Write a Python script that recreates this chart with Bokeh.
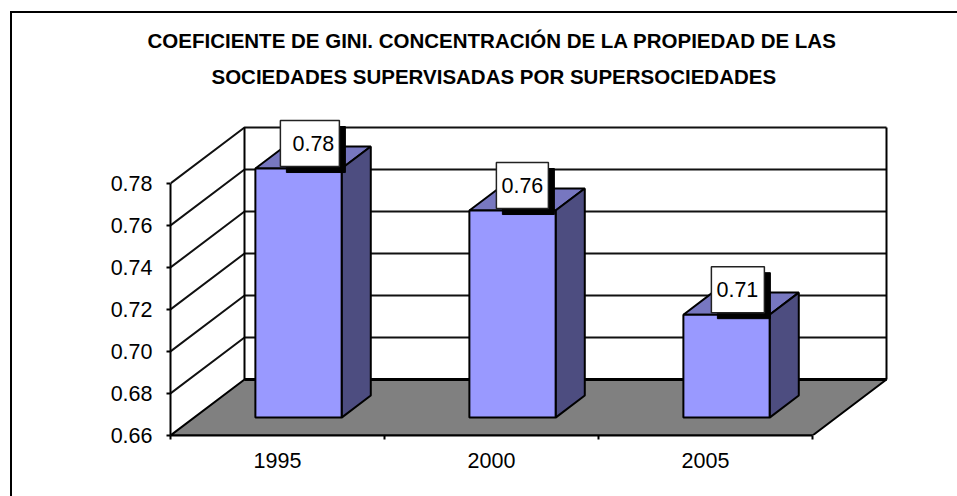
from bokeh.plotting import figure
from bokeh.embed import file_html
from bokeh.resources import INLINE
from bokeh.models import Range1d, FixedTicker, Title
from bokeh.core.properties import value

title_lines = ["COEFICIENTE DE GINI. CONCENTRACIÓN DE LA PROPIEDAD DE LAS",
               "SOCIEDADES SUPERVISADAS POR SUPERSOCIEDADES"]
years = ["1995", "2000", "2005"]
gini = [0.7786, 0.7586, 0.7090]
gini_labels = ["0.78", "0.76", "0.71"]
y_ticks = [0.66, 0.68, 0.70, 0.72, 0.74, 0.76, 0.78]

FONT = "Liberation Sans"
MX, MY = 10, 11                 # margin that puts the figure corner on the chart-area border
W, H = 957 - MX, 496 - MY
PX_X, PX_Y = 214.0, 2100.0      # pixels per category / per value unit
Y0, Y1 = y_ticks[0], y_ticks[-1]
N = len(years)
DX, DY = 74 / PX_X, 56 / PX_Y   # oblique projection of the full depth
LEFT, RIGHT, BOTTOM, TOP = 170 - MX, 957 - 890, 496 - 435, 116 - MY

def proj(x, v, d=0.0):
    return x + d * DX, v + d * DY

def poly(*pts):
    return [q[0] for q in pts], [q[1] for q in pts]

p = figure(width=W, height=H, output_backend="svg", toolbar_location=None,
           min_border_left=LEFT, min_border_right=RIGHT,
           min_border_bottom=BOTTOM, min_border_top=TOP,
           x_range=Range1d(0, (W - LEFT - RIGHT) / PX_X),
           y_range=Range1d(Y0, Y0 + (H - BOTTOM - TOP) / PX_Y),
           background_fill_color=None, border_fill_color=None)
p.margin = (MY, 0, 0, MX)
p.styles = {"box-shadow": "inset 2px 2px 0 0 black"}
p.grid.visible = False
p.outline_line_color = None

# axes
ax = p.yaxis[0]
ax.bounds = (Y0, Y1)
ax.ticker = FixedTicker(ticks=y_ticks)
ax.major_label_overrides = {t: f"{t:.2f}" for t in y_ticks}
ax.axis_line_color = "black"; ax.axis_line_width = 2
ax.major_tick_line_color = "black"; ax.major_tick_line_width = 2
ax.major_tick_in = 0; ax.major_tick_out = 4
ax.major_label_text_font = FONT; ax.major_label_text_font_size = "21.5px"
ax.major_label_text_color = "black"; ax.major_label_standoff = 14

bx = p.xaxis[0]
bx.bounds = (0, N)
centers = [i + 0.5 for i in range(N)]
bx.ticker = FixedTicker(ticks=centers, minor_ticks=list(range(N + 1)))
bx.major_label_overrides = dict(zip(centers, years))
bx.axis_line_color = "black"; bx.axis_line_width = 2
bx.major_tick_line_color = None
bx.major_tick_in = 0; bx.major_tick_out = 0
bx.minor_tick_line_color = "black"; bx.minor_tick_line_width = 2
bx.minor_tick_in = 0; bx.minor_tick_out = 4
bx.major_label_text_font = FONT; bx.major_label_text_font_size = "21.5px"
bx.major_label_text_color = "black"; bx.major_label_standoff = 13

# walls with gridlines
for t in y_ticks:
    xs, ys = poly(proj(0, t), proj(0, t, 1), proj(N, t, 1))
    if t != Y0:
        p.line(xs, ys, line_color="#111111", line_width=2)
xs, ys = poly(proj(0, Y0, 1), proj(0, Y1, 1))
p.line(xs, ys, line_color="black", line_width=2)
xs, ys = poly(proj(N, Y0, 1), proj(N, Y1, 1))
p.line(xs, ys, line_color="black", line_width=2)

# floor
xs, ys = poly(proj(0, Y0), proj(N, Y0), proj(N, Y0, 1), proj(0, Y0, 1))
p.patch(xs, ys, fill_color="#808080", line_color="black", line_width=2)
xs, ys = poly(proj(0, Y0, 1), proj(N, Y0, 1))
p.line(xs, ys, line_color="black", line_width=3)

# bars
X_A, BAR_W, D_A, D_B = 0.286, 0.403, 0.32, 0.714
for i, v in enumerate(gini):
    a, b = i + X_A, i + X_A + BAR_W
    xs, ys = poly(proj(a, v, D_A), proj(b, v, D_A), proj(b, v, D_B), proj(a, v, D_B))
    p.patch(xs, ys, fill_color="#7777C0", line_color="black", line_width=2)
    xs, ys = poly(proj(b, Y0, D_A), proj(b, Y0, D_B), proj(b, v, D_B), proj(b, v, D_A))
    p.patch(xs, ys, fill_color="#4D4D80", line_color="black", line_width=2)
    xs, ys = poly(proj(a, Y0, D_A), proj(b, Y0, D_A), proj(b, v, D_A), proj(a, v, D_A))
    p.patch(xs, ys, fill_color="#9999FF", line_color="black", line_width=2)

# data labels with hard shadow
LBL_LEFT_PX = [25, 27, 28]
LBL_W_PX = [59, 52, 53]
LBL_TXT_PX = [58, 53, 54]
LBL_H_PX, SHADOW = 46, 6
for i, v in enumerate(gini):
    x0, y0 = proj(i + X_A, v, D_A)
    l = x0 + LBL_LEFT_PX[i] / PX_X
    r = l + LBL_W_PX[i] / PX_X
    bot = y0 + 2 / PX_Y
    top = bot + LBL_H_PX / PX_Y
    p.quad(left=[l + SHADOW / PX_X], right=[r + SHADOW / PX_X],
           bottom=[bot - SHADOW / PX_Y], top=[top - SHADOW / PX_Y],
           fill_color="black", line_color="black", line_width=1)
    p.quad(left=[l], right=[r], bottom=[bot], top=[top],
           fill_color="white", line_color="#222222", line_width=1.5)
    p.text(x=[x0 + LBL_TXT_PX[i] / PX_X], y=[(bot + top) / 2], text=[gini_labels[i]],
           text_font=value(FONT), text_font_size="21.5px", text_color="black",
           text_align="center", text_baseline="middle")

# title (the first, blank panel lifts the two lines away from the plot)
p.add_layout(Title(text=" ", standoff=19, text_font_size="1px"), "above")
for line, st, off in zip(reversed(title_lines), [14, 8], [41, -23]):
    p.add_layout(Title(text=line, align="left", offset=off, standoff=st,
                       text_font=FONT, text_font_size="20.5px", text_font_style="bold",
                       text_color="black"), "above")

open("out.html", "w").write(file_html(p, INLINE))
